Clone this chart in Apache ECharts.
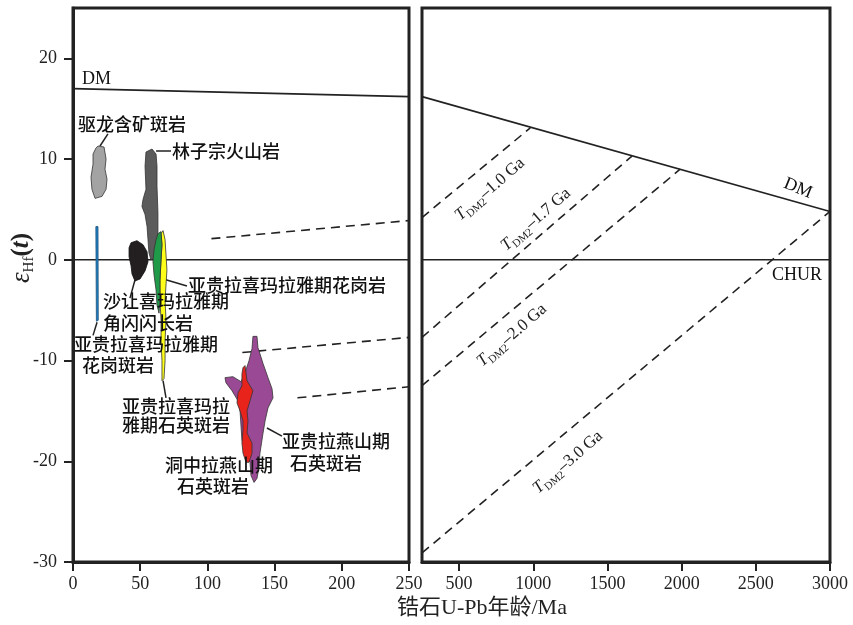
<!DOCTYPE html>
<html><head><meta charset="utf-8">
<script src="https://cdn.jsdelivr.net/npm/echarts@6/dist/echarts.min.js"></script>
<style>html,body{margin:0;padding:0;background:#fff}#c{width:853px;height:625px}</style>
</head><body><div id="c"></div>
<script>
// ---------- axis ticks ----------
const yTicks = [-30, -20, -10, 0, 10, 20];
const xTicksLeft = [0, 50, 100, 150, 200, 250];
const xTicksRight = [500, 1000, 1500, 2000, 2500, 3000];

// ---------- reference lines (age Ma, εHf) ----------
const dmLeft = [[0, 17.0], [250, 16.2]];
const dmRight = [[250, 16.2], [3000, 4.8]];
const churLeft = [[0, 0], [250, 0]];
const churRight = [[250, 0], [3000, 0]];
const tdm10Left = [[103, 2.1], [250, 3.9]];
const tdm10Right = [[250, 4.2], [980, 13.1]];
const tdm17Left = [[126, -9.2], [250, -7.7]];
const tdm17Right = [[250, -7.7], [1665, 10.3]];
const tdm20Left = [[167, -13.7], [250, -12.6]];
const tdm20Right = [[250, -12.5], [1990, 9.0]];
const tdm30Right = [[250, -29.1], [3000, 4.8]];

// ---------- data fields (polygon outlines, age Ma, εHf) ----------
const quLong = [[18.6,11.3],[23.1,11.2],[24.6,10.0],[23.8,9.0],[25.3,8.0],[24.6,7.0],[21.6,6.3],[16.4,6.1],[14.1,7.0],[13.4,8.2],[14.9,9.5],[14.9,10.5],[17.1,11.1]];
const linZiZong = [[58.8,11.0],[54.3,10.7],[53.6,9.3],[54.3,7.0],[52.1,6.0],[51.3,5.3],[53.6,4.5],[55.1,3.3],[55.8,2.0],[56.5,0.7],[58.0,0.0],[61.0,0.3],[62.5,1.7],[63.2,2.7],[63.2,4.7],[62.5,7.3],[62.5,9.3],[61.8,10.5]];
const yglGranitePorphyry = [[17.0,3.3],[18.6,3.3],[18.8,-6.0],[17.4,-6.1]];
const shaRang = [[43.2,1.7],[47.6,1.9],[52.1,1.5],[55.1,0.8],[55.8,-0.2],[53.6,-1.1],[49.9,-1.9],[46.1,-2.1],[43.9,-1.4],[43.2,-0.6],[41.7,0.3],[41.7,1.2]];
const yglQuartzPorphyryHim = [[65.5,2.6],[67.0,2.9],[68.5,2.0],[69.2,0.5],[69.9,-1.0],[69.2,-2.5],[68.5,-4.0],[69.2,-6.0],[68.5,-8.0],[68.5,-10.0],[67.7,-11.8],[66.2,-12.0],[66.2,-10.0],[65.5,-8.0],[65.5,-6.0],[64.7,-4.0],[64.7,-2.0],[65.5,0.0],[66.2,1.5]];
const yglGranite = [[63.2,2.6],[65.5,2.8],[66.2,1.5],[65.5,0.0],[64.7,-2.0],[64.7,-4.0],[64.0,-5.3],[62.5,-4.5],[61.8,-3.0],[60.3,-1.5],[59.5,-0.2],[60.3,1.0],[61.8,2.0]];
const yglYanshan = [[133.9,-7.6],[136.9,-7.6],[137.6,-8.7],[141.4,-10.3],[145.1,-11.7],[148.1,-12.8],[148.8,-13.7],[145.1,-14.7],[142.9,-16.0],[141.4,-17.2],[139.1,-19.2],[138.4,-20.6],[136.9,-21.7],[134.7,-22.1],[132.4,-21.4],[131.7,-20.1],[128.0,-18.9],[125.7,-17.9],[125.0,-16.5],[124.3,-15.0],[122.8,-14.0],[118.3,-13.0],[113.8,-12.2],[113.1,-11.7],[119.0,-11.6],[125.0,-12.1],[128.0,-11.2],[131.0,-10.0],[133.2,-8.8]];
const dongZhongLa = [[128.0,-10.5],[129.5,-12.0],[133.9,-13.0],[131.7,-14.0],[129.5,-15.0],[130.2,-16.0],[129.5,-17.2],[133.2,-18.2],[133.2,-19.2],[131.0,-20.1],[128.7,-20.1],[126.5,-19.2],[125.7,-18.2],[126.5,-16.9],[126.5,-16.0],[124.3,-15.0],[122.0,-14.2],[122.8,-13.2],[125.7,-12.5],[125.7,-11.3],[126.5,-10.7]];

// ---------- leader lines ----------
const leaders = [
  [[20.1,11.3],[26.0,12.5]],
  [[61.8,10.8],[72.9,10.8]],
  [[64.7,-1.8],[84.8,-2.6]],
  [[46.1,-2.0],[42.4,-3.8]],
  [[17.9,-6.2],[14.9,-7.5]],
  [[67.0,-12.0],[69.2,-13.7]],
  [[144.3,-16.7],[155.5,-17.5]]
];

// ---------- annotation texts ----------
const labelsLeft = [
  {t:'DM', x:6.7, y:17.9, serif:true},
  {t:'驱龙含矿斑岩', x:3.7, y:13.5},
  {t:'林子宗火山岩', x:73.7, y:10.8},
  {t:'亚贵拉喜玛拉雅期花岗岩', x:85.6, y:-2.5},
  {t:'沙让喜玛拉雅期', x:22.3, y:-4.1},
  {t:'角闪闪长岩', x:22.3, y:-6.3},
  {t:'亚贵拉喜玛拉雅期', x:0.7, y:-8.4},
  {t:'花岗斑岩', x:6.7, y:-10.5},
  {t:'亚贵拉喜玛拉', x:36.5, y:-14.5},
  {t:'雅期石英斑岩', x:36.5, y:-16.4},
  {t:'洞中拉燕山期', x:68.5, y:-20.4},
  {t:'石英斑岩', x:77.4, y:-22.5},
  {t:'亚贵拉燕山期', x:155.5, y:-18.0},
  {t:'石英斑岩', x:161.5, y:-20.2}
];
const labelsRight = [
  {t:'DM', x:2784, y:7.1, serif:true, rot:-22, align:'center'},
  {t:'CHUR', x:2777, y:-1.5, serif:true, align:'center'},
  {t:'{T|T}{s|DM2}{n|–1.0 Ga}', x:708, y:7.0, rot:41, align:'center'},
  {t:'{T|T}{s|DM2}{n|–1.7 Ga}', x:1018, y:4.0, rot:41, align:'center'},
  {t:'{T|T}{s|DM2}{n|–2.0 Ga}', x:856, y:-7.5, rot:41, align:'center'},
  {t:'{T|T}{s|DM2}{n|–3.0 Ga}', x:1234, y:-20.1, rot:41, align:'center'}
];

const SERIF = "'Liberation Serif','DejaVu Serif',serif";
const CJK = "'Noto Sans CJK SC','Noto Sans',sans-serif";
const INK = '#222';
const RICH = {
  T: {fontFamily: SERIF, fontStyle: 'italic', fontSize: 17, fill: INK, lineHeight: 22},
  s: {fontFamily: SERIF, fontSize: 11, fill: INK, verticalAlign: 'bottom', lineHeight: 12},
  n: {fontFamily: SERIF, fontSize: 17, fill: INK, lineHeight: 22}
};

function polySeries(pts, fill, stroke) {
  return {
    type: 'custom', xAxisIndex: 0, yAxisIndex: 0, silent: true, z: 5,
    data: pts,
    renderItem: function (params, api) {
      if (params.dataIndex !== 0) return null;
      const points = pts.map(p => api.coord(p));
      return {type: 'polygon', shape: {points: points},
        style: {fill: fill, stroke: stroke || '#333', lineWidth: 0.8}};
    }
  };
}
function lineSeries(data, gi, dashed, w) {
  return {type: 'line', xAxisIndex: gi, yAxisIndex: gi, data: data, symbol: 'none', silent: true,
    animation: false, z: 3,
    lineStyle: {color: INK, width: w || 1.6, type: dashed ? [9, 6] : 'solid'}};
}
function labelSeries(gi, items) {
  return {
    type: 'custom', xAxisIndex: gi, yAxisIndex: gi, clip: false, silent: true, z: 10,
    data: items.map(d => [d.x, d.y]),
    renderItem: function (params, api) {
      const d = items[params.dataIndex];
      const p = api.coord([api.value(0), api.value(1)]);
      return {type: 'text', x: p[0], y: p[1], rotation: (d.rot || 0) * Math.PI / 180,
        style: {text: d.t, fill: '#111', fontSize: 18, fontWeight: d.serif ? 'normal' : 500,
          fontFamily: d.serif ? SERIF : CJK, align: d.align || 'left', verticalAlign: 'middle', rich: RICH}};
    }
  };
}

const axisLabelStyle = {color: INK, fontFamily: SERIF, fontSize: 18, formatter: v => String(v)};
const xTickStyle = {show: true, inside: false, length: 9, lineStyle: {color: INK, width: 2}};
const yTickStyle = {show: true, inside: false, length: 9, lineStyle: {color: INK, width: 2}};
const lineStyle3 = {show: true, onZero: false, lineStyle: {color: INK, width: 3}};
const chart = echarts.init(document.getElementById('c'), null, {renderer: 'canvas'});
const series = [
  lineSeries(dmLeft, 0), lineSeries(churLeft, 0),
  lineSeries(tdm10Left, 0, true), lineSeries(tdm17Left, 0, true), lineSeries(tdm20Left, 0, true),
  lineSeries(dmRight, 1), lineSeries(churRight, 1),
  lineSeries(tdm10Right, 1, true), lineSeries(tdm17Right, 1, true), lineSeries(tdm20Right, 1, true),
  lineSeries(tdm30Right, 1, true),
  polySeries(quLong, '#a3a3a3'),
  polySeries(linZiZong, '#5b5b5b'),
  polySeries(yglGranitePorphyry, '#1f82c4', '#1a4f7a'),
  polySeries(shaRang, '#231f20', '#111'),
  polySeries(yglQuartzPorphyryHim, '#ffff1a'),
  polySeries(yglGranite, '#1f9a48'),
  polySeries(yglYanshan, '#9a4a94'),
  polySeries(dongZhongLa, '#e8231c'),
  labelSeries(0, labelsLeft),
  labelSeries(1, labelsRight)
].concat(leaders.map(l => lineSeries(l, 0, false, 1.5)));

chart.setOption({
  animation: false,
  backgroundColor: '#fff',
  grid: [
    {left: 73, top: 8, width: 336, height: 554, show: true, borderColor: INK, borderWidth: 3, containLabel: false},
    {left: 422, top: 8, width: 408, height: 554, show: true, borderColor: INK, borderWidth: 3, containLabel: false}
  ],
  xAxis: [
    {type: 'value', gridIndex: 0, min: 0, max: 250, interval: 50, position: 'bottom',
      axisLine: lineStyle3, splitLine: {show: false},
      axisTick: xTickStyle,
      axisLabel: Object.assign({margin: 13}, axisLabelStyle)},
    {type: 'value', gridIndex: 1, min: 250, max: 3000, interval: 250, position: 'bottom',
      axisLine: lineStyle3, splitLine: {show: false},
      axisTick: Object.assign({customValues: xTicksRight}, xTickStyle),
      axisLabel: Object.assign({margin: 13, customValues: xTicksRight}, axisLabelStyle)}
  ],
  yAxis: [
    {type: 'value', gridIndex: 0, min: -30, max: 25, interval: 10, position: 'left',
      axisLine: lineStyle3, splitLine: {show: false},
      axisTick: Object.assign({customValues: yTicks}, yTickStyle),
      axisLabel: Object.assign({margin: 16, customValues: yTicks}, axisLabelStyle)},
    {type: 'value', gridIndex: 1, min: -30, max: 25, interval: 10,
      axisLine: {show: false, onZero: false}, splitLine: {show: false}, axisTick: {show: false}, axisLabel: {show: false}}
  ],
  graphic: [
    {type: 'text', x: 22, y: 258, rotation: Math.PI / 2, silent: true,
      style: {text: '{e|ε}{h|Hf}{p|(}{t|t}{p|)}', align: 'center', verticalAlign: 'middle',
        rich: {
          e: {fontFamily: SERIF, fontStyle: 'italic', fontSize: 27, fill: INK, lineHeight: 30},
          h: {fontFamily: SERIF, fontSize: 15, fill: INK, verticalAlign: 'bottom', lineHeight: 15},
          p: {fontFamily: SERIF, fontWeight: 'bold', fontSize: 25, fill: INK, lineHeight: 30},
          t: {fontFamily: SERIF, fontWeight: 'bold', fontStyle: 'italic', fontSize: 25, fill: INK, lineHeight: 30}
        }}},
    {type: 'text', x: 482, y: 608, silent: true,
      style: {text: '锆石U-Pb年龄/Ma', align: 'center', verticalAlign: 'middle',
        fontFamily: "'Liberation Serif','Noto Sans CJK SC',serif", fontSize: 22, fill: INK}}
  ],
  series: series
});
</script></body></html>
